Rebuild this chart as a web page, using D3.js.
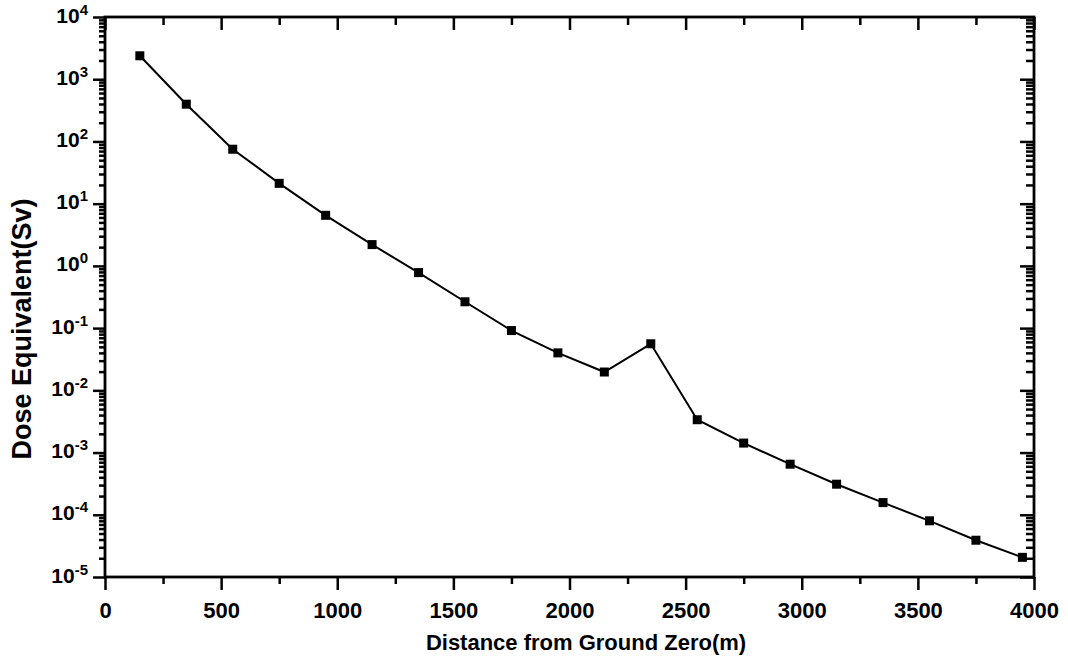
<!DOCTYPE html>
<html>
<head>
<meta charset="utf-8">
<script src="https://cdn.jsdelivr.net/npm/d3@7"></script>
<style>
  body { margin: 0; background: #fff; }
  svg text { font-family: "Liberation Sans", Arial, sans-serif; font-weight: bold; fill: #000; }
</style>
</head>
<body>
<div id="chart"></div>
<script>
// data
var distance = [150, 350, 550, 750, 950, 1150, 1350, 1550, 1750, 1950,
                2150, 2350, 2550, 2750, 2950, 3150, 3350, 3550, 3750, 3950];
var dose = [2380, 397, 75, 21.2, 6.5, 2.2, 0.78, 0.265, 0.0914, 0.040,
            0.0197, 0.056, 0.00337, 0.00142, 6.5e-4, 3.1e-4, 1.57e-4, 8.0e-5, 3.9e-5, 2.07e-5];
var xTicks = [0, 500, 1000, 1500, 2000, 2500, 3000, 3500, 4000];
var xMinor = [250, 750, 1250, 1750, 2250, 2750, 3250, 3750];
var yExp = [-5, -4, -3, -2, -1, 0, 1, 2, 3, 4];

var W = 1068, H = 663;
var m = {left:105, right:1034, top:17, bottom:577};

var svg = d3.select("#chart").append("svg").attr("width", W).attr("height", H);

var x = d3.scaleLinear().domain([0, 4000]).range([m.left, m.right]);
var y = d3.scaleLog().domain([1e-5, 1e4]).range([m.bottom, m.top]);

var yMajor = yExp.map(function(e){ return Math.pow(10, e); });
var yMinor = [];
yExp.slice(0, -1).forEach(function(e){
	for(var k=2;k<10;k++){ yMinor.push(k*Math.pow(10, e)); }
});

function styleAxis(g){
	g.select(".domain").remove();
	g.selectAll("line").attr("stroke", "#000").attr("stroke-width", 2.5);
}

// bottom axis, ticks outward
var gb = svg.append("g").attr("transform", "translate(0," + m.bottom + ")");
gb.call(d3.axisBottom(x).tickValues(xTicks).tickSize(13).tickFormat(d3.format("d")));
gb.call(styleAxis);
gb.selectAll("text").attr("y", 25).attr("dy", "0.71em").style("font-size", "22px");
svg.append("g").attr("transform", "translate(0," + m.bottom + ")")
	.call(d3.axisBottom(x).tickValues(xMinor).tickSize(7).tickFormat(""))
	.call(styleAxis);

// top axis, ticks inward
svg.append("g").attr("transform", "translate(0," + m.top + ")")
	.call(d3.axisBottom(x).tickValues(xTicks).tickSize(13).tickFormat(""))
	.call(styleAxis);
svg.append("g").attr("transform", "translate(0," + m.top + ")")
	.call(d3.axisBottom(x).tickValues(xMinor).tickSize(8).tickFormat(""))
	.call(styleAxis);

// left axis, ticks outward
var gl = svg.append("g").attr("transform", "translate(" + m.left + ",0)");
gl.call(d3.axisLeft(y).tickValues(yMajor).tickSize(12));
gl.call(styleAxis);
gl.selectAll(".tick text").each(function(d){
	var t = d3.select(this);
	t.text(null).attr("x", -17).attr("dy", null).attr("y", 5)
	 .attr("text-anchor", "end").style("font-size", "21px");
	t.append("tspan").text("10");
	t.append("tspan").attr("dy", -8).style("font-size", "15px").text(Math.round(Math.log10(d)));
});
svg.append("g").attr("transform", "translate(" + m.left + ",0)")
	.call(d3.axisLeft(y).tickValues(yMinor).tickSize(6).tickFormat(""))
	.call(styleAxis);

// right axis, ticks inward
svg.append("g").attr("transform", "translate(" + m.right + ",0)")
	.call(d3.axisLeft(y).tickValues(yMajor).tickSize(14).tickFormat(""))
	.call(styleAxis);
svg.append("g").attr("transform", "translate(" + m.right + ",0)")
	.call(d3.axisLeft(y).tickValues(yMinor).tickSize(8).tickFormat(""))
	.call(styleAxis);

// frame
svg.append("rect")
	.attr("x", m.left).attr("y", m.top)
	.attr("width", m.right - m.left).attr("height", m.bottom - m.top)
	.attr("fill", "none").attr("stroke", "#000").attr("stroke-width", 2.8);

// data
var pts = distance.map(function(d,i){ return {x:d, y:dose[i]}; });
svg.append("path").datum(pts)
	.attr("fill", "none").attr("stroke", "#000").attr("stroke-width", 2)
	.attr("d", d3.line().x(function(d){ return x(d.x); }).y(function(d){ return y(d.y); }));

svg.selectAll("rect.pt").data(pts).enter().append("rect").classed("pt", true)
	.attr("x", function(d){ return x(d.x) - 4.5; })
	.attr("y", function(d){ return y(d.y) - 4.5; })
	.attr("width", 9).attr("height", 9).attr("fill", "#000");

// titles
svg.append("text").attr("x", 586).attr("y", 650).attr("text-anchor", "middle")
	.style("font-size", "22px").text("Distance from Ground Zero(m)");
svg.append("text").attr("transform", "translate(31,329) rotate(-90)").attr("text-anchor", "middle")
	.style("font-size", "27px").text("Dose Equivalent(Sv)");
</script>
</body>
</html>
